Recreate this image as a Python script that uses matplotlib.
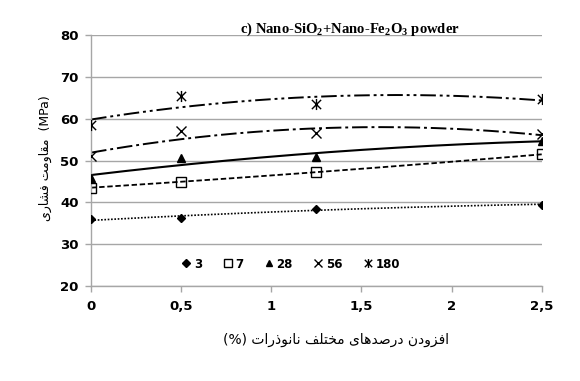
import numpy as np
import matplotlib
matplotlib.use("Agg")
import matplotlib.pyplot as plt
from matplotlib.path import Path
from matplotlib.lines import Line2D

# ---------------- data ----------------
x_vals = [0, 0.5, 1.25, 2.5]
s3 = [36.0, 36.2, 38.5, 39.5]
s7 = [43.5, 45.0, 47.2, 51.5]
s28 = [45.8, 50.5, 50.8, 54.8]
s56 = [51.0, 57.0, 56.5, 56.3]
s180 = [58.5, 65.5, 63.5, 64.7]
series_labels = ["3", "7", "28", "56", "180"]
x_ticks = [0, 0.5, 1, 1.5, 2, 2.5]
x_ticklabels = ["0", "0,5", "1", "1,5", "2", "2,5"]
y_ticks = [20, 30, 40, 50, 60, 70, 80]

# ---------------- minimal Arabic-script shaping ----------------
FORMS = {  # isolated, final, initial, medial
    'ا': ('\uFE8D', '\uFE8E', None, None),
    'د': ('\uFEA9', '\uFEAA', None, None),
    'ذ': ('\uFEAB', '\uFEAC', None, None),
    'ر': ('\uFEAD', '\uFEAE', None, None),
    'ز': ('\uFEAF', '\uFEB0', None, None),
    'و': ('\uFEED', '\uFEEE', None, None),
    'ف': ('\uFED1', '\uFED2', '\uFED3', '\uFED4'),
    'ن': ('\uFEE5', '\uFEE6', '\uFEE7', '\uFEE8'),
    'ص': ('\uFEB9', '\uFEBA', '\uFEBB', '\uFEBC'),
    'ه': ('\uFEE9', '\uFEEA', '\uFEEB', '\uFEEC'),
    'ی': ('\uFBFC', '\uFBFD', '\uFBFE', '\uFBFF'),
    'م': ('\uFEE1', '\uFEE2', '\uFEE3', '\uFEE4'),
    'خ': ('\uFEA5', '\uFEA6', '\uFEA7', '\uFEA8'),
    'ت': ('\uFE95', '\uFE96', '\uFE97', '\uFE98'),
    'ل': ('\uFEDD', '\uFEDE', '\uFEDF', '\uFEE0'),
    'ق': ('\uFED5', '\uFED6', '\uFED7', '\uFED8'),
    'ش': ('\uFEB5', '\uFEB6', '\uFEB7', '\uFEB8'),
}


def visual(word):
    out = []
    n = len(word)
    for i, ch in enumerate(word):
        f = FORMS[ch]
        prev_joins = i > 0 and FORMS[word[i - 1]][2] is not None
        next_exists = i < n - 1
        can_join_next = f[2] is not None and next_exists
        if prev_joins and can_join_next:
            out.append(f[3])
        elif prev_joins:
            out.append(f[1])
        elif can_join_next:
            out.append(f[2])
        else:
            out.append(f[0])
    return ''.join(reversed(out))


xlabel_text = "(%) " + " ".join(visual(w) for w in ["نانوذرات", "مختلف", "درصدهای", "افزودن"])
ylabel_text = " ".join(visual(w) for w in ["فشاری", "مقاومت"]) + "  (MPa)"

# ---------------- figure ----------------
plt.rcParams['font.family'] = ['DejaVu Sans']
fig = plt.figure(figsize=(5.8, 3.81), dpi=100)
ax = fig.add_axes([0.157, 0.249, 0.777, 0.659])

star_path = Path([(-1, -1), (1, 1), (-1, 1), (1, -1), (0, -1.2), (0, 1.2)],
                 [Path.MOVETO, Path.LINETO, Path.MOVETO, Path.LINETO, Path.MOVETO, Path.LINETO])

styles = [
    (s3, 'D', 4.5, 'k', (0, (1, 1)), 1.2),
    (s7, 's', 7, 'none', (0, (3, 1.5)), 1.3),
    (s28, '^', 6, 'k', '-', 1.5),
    (s56, 'x', 7, 'k', (0, (8, 2, 1.5, 2)), 1.4),
    (s180, star_path, 8, 'k', (0, (8, 2, 1.5, 2, 1.5, 2)), 1.4),
]

xs = np.linspace(0, 2.5, 200)
handles = []
for (vals, m, ms, mfc, ls, lw), lab in zip(styles, series_labels):
    coef = np.polyfit(x_vals, vals, 2)
    ax.plot(xs, np.polyval(coef, xs), color='black', linestyle=ls, linewidth=lw, zorder=2)
    ax.plot(x_vals, vals, linestyle='none', marker=m, markersize=ms,
            markerfacecolor=mfc, markeredgecolor='black', markeredgewidth=1.0, zorder=3)
    handles.append(Line2D([], [], linestyle='none', marker=m, markersize=ms * 0.8,
                          markerfacecolor=mfc, markeredgecolor='black', markeredgewidth=1.0,
                          label=lab))

ax.set_xlim(0, 2.5)
ax.set_ylim(20, 80)
ax.set_xticks(x_ticks)
ax.set_xticklabels(x_ticklabels)
ax.set_yticks(y_ticks)
ax.yaxis.grid(True, color='#a6a6a6', linewidth=1.0)
ax.set_axisbelow(True)
for sp in ['top', 'right']:
    ax.spines[sp].set_visible(False)
for sp in ['left', 'bottom']:
    ax.spines[sp].set_color('#a6a6a6')
    ax.spines[sp].set_linewidth(1.0)
ax.tick_params(axis='both', colors='#a6a6a6', length=4, width=1.0, labelcolor='black',
               labelsize=9.5)
ax.tick_params(axis='x', pad=6)
ax.tick_params(axis='y', pad=5)
for t in ax.get_xticklabels() + ax.get_yticklabels():
    t.set_fontweight('bold')

leg = ax.legend(handles=handles, loc='center', bbox_to_anchor=(0.44, 0.088), ncol=5,
                frameon=False, handletextpad=0.0, columnspacing=1.5, handlelength=1.3,
                prop={'weight': 'bold', 'size': 8.5})

fig.text(0.58, 0.108, xlabel_text, fontsize=10, ha='center', va='center')
fig.text(0.078, 0.585, ylabel_text, fontsize=9, ha='center', va='center', rotation=90)
fig.text(0.603, 0.915,
         r"c) Nano-SiO$_\mathregular{2}$+Nano-Fe$_\mathregular{2}$O$_\mathregular{3}$ powder",
         family='Liberation Serif', fontweight='bold', fontsize=10.5, ha='center', va='baseline')

fig.savefig('out.png', dpi=100)
